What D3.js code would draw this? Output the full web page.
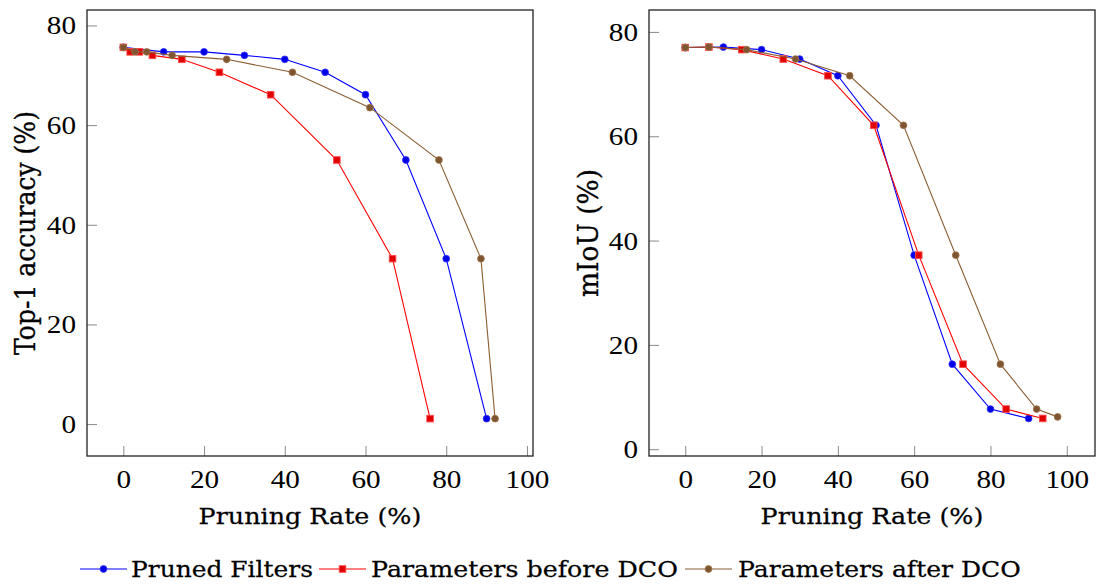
<!DOCTYPE html>
<html>
<head>
<meta charset="utf-8">
<script src="https://cdn.jsdelivr.net/npm/d3@7"></script>
<style>
  html, body { margin: 0; padding: 0; background: #fff; }
  svg { display: block; }
  text { font-family: "Liberation Serif", "DejaVu Serif", serif; fill: #000; }
  text.lbl { font-family: "DejaVu Serif", "Liberation Serif", serif; stroke: #000; stroke-width: 0.25px; }
</style>
</head>
<body>
<svg id="chart" width="1097" height="584"></svg>
<script>
// ---------- data ----------
const xTicks = [0, 20, 40, 60, 80, 100];
const yTicks = [0, 20, 40, 60, 80];

const seriesNames = ["Pruned Filters", "Parameters before DCO", "Parameters after DCO"];
const seriesColors = ["#0000ff", "#ff0000", "#8b5e34"];
const seriesMarkers = ["circle", "square", "circle"];

// Left panel: Top-1 accuracy
const leftBlueX  = [0, 10, 20, 30, 40, 50, 60, 70, 80, 90];
const leftBlueY  = [75.6, 74.7, 74.7, 74.0, 73.2, 70.6, 66.1, 53.0, 33.2, 1.1];
const leftRedX   = [0, 1.7, 4.0, 7.2, 14.5, 23.8, 36.5, 52.9, 66.7, 76.0];
const leftRedY   = [75.6, 74.7, 74.7, 74.0, 73.2, 70.6, 66.1, 53.0, 33.2, 1.1];
const leftBrownX = [0, 2.9, 5.8, 12.1, 25.6, 41.9, 61.1, 78.2, 88.6, 92.1];
const leftBrownY = [75.6, 74.7, 74.7, 74.0, 73.2, 70.6, 63.5, 53.0, 33.2, 1.1];

// Right panel: mIoU
const rightBlueX  = [0, 10, 20, 30, 40, 50, 60, 70, 80, 90];
const rightBlueY  = [77.0, 77.1, 76.6, 74.8, 71.6, 62.1, 37.2, 16.3, 7.7, 5.9];
const rightRedX   = [0, 6.2, 14.8, 25.7, 37.4, 49.4, 61.2, 72.8, 84.1, 93.7];
const rightRedY   = [77.0, 77.1, 76.6, 74.8, 71.6, 62.1, 37.2, 16.3, 7.7, 5.9];
const rightBrownX = [0, 6.2, 16.1, 28.9, 43.1, 57.2, 70.9, 82.6, 92.1, 97.6];
const rightBrownY = [77.0, 77.1, 76.6, 74.8, 71.6, 62.1, 37.2, 16.3, 7.7, 6.2];

// ---------- drawing ----------
const svg = d3.select("#chart");

const panels = [
  {
    xDomain: [-9, 101.5], yDomain: [-6.4, 83.1],
    left: 87, right: 533, top: 10, bottom: 456,
    yLabel: "Top-1 accuracy (%)", yLabelLen: 244, yLabelX: 35,
    xLabelLen: 223,
    series: [[leftBlueX, leftBlueY], [leftRedX, leftRedY], [leftBrownX, leftBrownY]]
  },
  {
    xDomain: [-9.5, 107.4], yDomain: [-1.3, 84.2],
    left: 649, right: 1095, top: 10, bottom: 456,
    yLabel: "mIoU (%)", yLabelLen: 128, yLabelX: 598,
    xLabelLen: 223,
    series: [[rightBlueX, rightBlueY], [rightRedX, rightRedY], [rightBrownX, rightBrownY]]
  }
];

// stretch a text horizontally so its width equals target
function fitWidth(sel, tx, ty, target) {
  const w = sel.node().getComputedTextLength();
  const s = w > 0 ? target / w : 1;
  sel.attr("x", 0).attr("y", 0).attr("transform", `translate(${tx},${ty}) scale(${s},1)`);
}

function drawMarker(g, type, color, x, y) {
  if (type === "square") {
    g.append("rect")
      .attr("x", x - 3.3).attr("y", y - 3.3)
      .attr("width", 6.6).attr("height", 6.6)
      .attr("fill", "#e00000").attr("stroke", "#ff4a4a").attr("stroke-width", 0.9);
  } else {
    const fill = color === "#0000ff" ? "#0000e6" : "#7d5531";
    const stroke = color === "#0000ff" ? "#3030ff" : "#a27449";
    g.append("circle")
      .attr("cx", x).attr("cy", y).attr("r", 3.4)
      .attr("fill", fill).attr("stroke", stroke).attr("stroke-width", 0.8);
  }
}

panels.forEach(p => {
  const x = d3.scaleLinear().domain(p.xDomain).range([p.left, p.right]);
  const y = d3.scaleLinear().domain(p.yDomain).range([p.bottom, p.top]);
  const g = svg.append("g");

  // ticks (inside, gray)
  const xAxis = d3.axisBottom(x).tickValues(xTicks).tickSize(-10).tickSizeOuter(0);
  const gx = g.append("g").attr("transform", `translate(0,${p.bottom})`).call(xAxis);
  gx.select(".domain").remove();
  gx.selectAll(".tick line").attr("stroke", "#8a8a8a").attr("stroke-width", 1);
  gx.selectAll(".tick text")
    .attr("dy", 0)
    .style("font-size", "25px")
    .each(function () {
      const t = d3.select(this);
      fitWidth(t, 0, 32, t.text().length * 14.6);
    });

  const yAxis = d3.axisLeft(y).tickValues(yTicks).tickSize(-10).tickSizeOuter(0);
  const gy = g.append("g").attr("transform", `translate(${p.left},0)`).call(yAxis);
  gy.select(".domain").remove();
  gy.selectAll(".tick line").attr("stroke", "#8a8a8a").attr("stroke-width", 1);
  gy.selectAll(".tick text")
    .attr("dy", 0)
    .style("font-size", "25px")
    .each(function () {
      const t = d3.select(this);
      fitWidth(t, -11, 8.5, t.text().length * 14.6);
    });

  // series
  p.series.forEach((s, i) => {
    const pts = s[0].map((xv, j) => [xv, s[1][j]]);
    const line = d3.line().x(d => x(d[0])).y(d => y(d[1]));
    g.append("path").datum(pts)
      .attr("d", line)
      .attr("fill", "none")
      .attr("stroke", seriesColors[i])
      .attr("stroke-width", 1.1);
    const mg = g.append("g");
    pts.forEach(d => drawMarker(mg, seriesMarkers[i], seriesColors[i], x(d[0]), y(d[1])));
  });

  // frame
  g.append("rect")
    .attr("x", p.left).attr("y", p.top)
    .attr("width", p.right - p.left).attr("height", p.bottom - p.top)
    .attr("fill", "none").attr("stroke", "#222").attr("stroke-width", 1.3);

  // x label
  const xl = g.append("text")
    .attr("class", "lbl")
    .attr("text-anchor", "middle")
    .style("font-size", "23px")
    .text("Pruning Rate (%)");
  fitWidth(xl, (p.left + p.right) / 2, 524, p.xLabelLen);

  // y label (rotated; glyph height stretched to match the reference)
  const cy = (p.top + p.bottom) / 2;
  const yl = g.append("text")
    .attr("class", "lbl")
    .attr("text-anchor", "middle")
    .style("font-size", "22px")
    .text(p.yLabel);
  const lw = yl.node().getComputedTextLength();
  yl.attr("transform", `translate(${p.yLabelX},${cy}) scale(1.3,${p.yLabelLen / lw}) rotate(-90)`);
});

// ---------- legend ----------
const legendItems = [
  { lineX0: 80, lineX1: 127, textX: 131, textLen: 182 },
  { lineX0: 319, lineX1: 366, textX: 371, textLen: 307 },
  { lineX0: 685, lineX1: 732, textX: 738, textLen: 283 }
];
const lg = svg.append("g");
const legendY = 569;
legendItems.forEach((it, i) => {
  lg.append("line")
    .attr("x1", it.lineX0).attr("x2", it.lineX1)
    .attr("y1", legendY).attr("y2", legendY)
    .attr("stroke", seriesColors[i]).attr("stroke-width", 1.1);
  drawMarker(lg, seriesMarkers[i], seriesColors[i], (it.lineX0 + it.lineX1) / 2, legendY);
  const t = lg.append("text")
    .attr("class", "lbl")
    .style("font-size", "23px")
    .text(seriesNames[i]);
  fitWidth(t, it.textX, 577, it.textLen);
});
</script>
</body>
</html>
